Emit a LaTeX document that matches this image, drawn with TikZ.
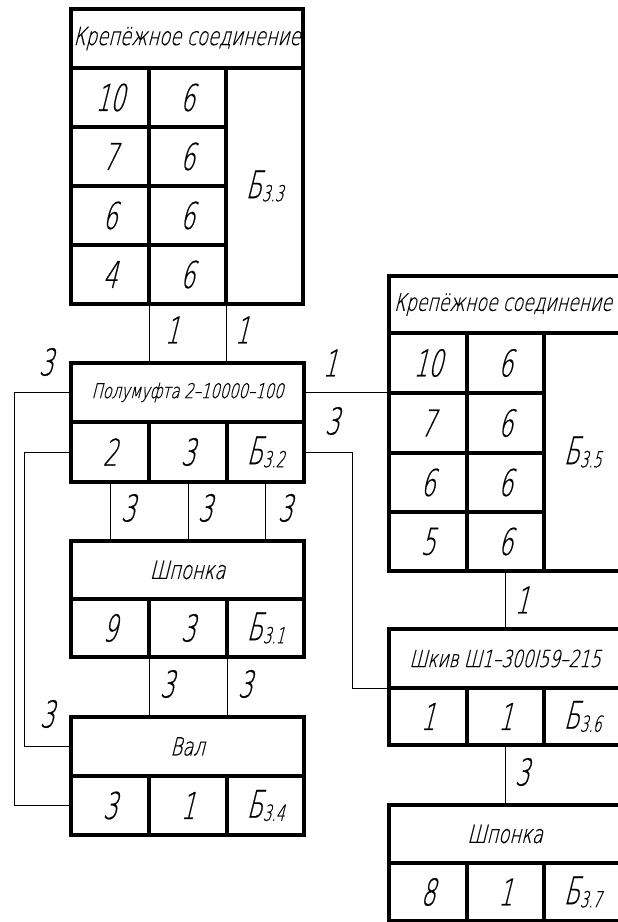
\documentclass[tikz,border=0pt]{standalone}
\usepackage{fontspec}
% narrow slanted drafting lettering
\newfontfamily\gost{DejaVu Sans ExtraLight}[FakeSlant=0.25,FakeStretch=0.72,FakeBold=0.5]
\newfontfamily\gostnum{DejaVu Sans ExtraLight}[FakeSlant=0.25,FakeStretch=0.62,FakeBold=0.5]
\newcommand\ttlsize{\gost\fontsize{25}{25}\selectfont}
\newcommand\numsize{\gostnum\fontsize{37}{37}\selectfont}
% "B" with index, e.g. \bidx{3.3}
\newcommand\bidx[1]{{\gostnum\fontsize{38}{38}\selectfont Б}\raisebox{-3pt}{\gostnum\fontsize{22}{22}\selectfont #1}}
% one table cell: name, left, top, width, height, text
\newcommand\mycell[6]{\node[cell, minimum width=#4pt, minimum height=#5pt] (#1) at (#2,#3) {#6};}
\tikzset{
  cell/.style={draw, line width=3.2pt, rectangle, inner sep=0pt, outer sep=0pt,
               anchor=north west, font=\numsize},
  conn/.style={line width=0.9pt},
  lbl/.style={inner sep=0pt, font=\numsize},
}
\begin{document}
\begin{tikzpicture}[x=1pt,y=-1pt]
\useasboundingbox (0,0) rectangle (618,922);
\clip (0,0) rectangle (618,922);

% fastener unit B3.3
\mycell{aT}{71}{9}{232}{59}{\ttlsize Крепёжное соединение}
\mycell{a11}{71}{68}{78}{59}{10}
\mycell{a12}{149}{68}{77}{59}{6}
\mycell{a21}{71}{127}{78}{59}{7}
\mycell{a22}{149}{127}{77}{59}{6}
\mycell{a31}{71}{186}{78}{59}{6}
\mycell{a32}{149}{186}{77}{59}{6}
\mycell{a41}{71}{245}{78}{59}{4}
\mycell{a42}{149}{245}{77}{59}{6}
\mycell{aB}{226}{68}{77}{236}{\bidx{3.3}}

% half coupling B3.2
\mycell{pT}{71}{363}{233}{59}{\gost\fontsize{20.5}{20.5}\selectfont Полумуфта 2–10000–100}
\mycell{p1}{71}{422}{78}{60}{2}
\mycell{p2}{149}{422}{78}{60}{3}
\mycell{p3}{227}{422}{77}{60}{\bidx{3.2}}

% key B3.1
\mycell{sT}{71}{541}{233}{58}{\ttlsize Шпонка}
\mycell{s1}{71}{599}{78}{58}{9}
\mycell{s2}{149}{599}{78}{58}{3}
\mycell{s3}{227}{599}{77}{58}{\bidx{3.1}}

% shaft B3.4
\mycell{vT}{71}{717}{233}{59}{\ttlsize Вал}
\mycell{v1}{71}{776}{78}{59}{3}
\mycell{v2}{149}{776}{78}{59}{1}
\mycell{v3}{227}{776}{77}{59}{\bidx{3.4}}

% fastener unit B3.5
\mycell{bT}{389}{276}{232}{57}{\gost\fontsize{24}{24}\selectfont Крепёжное соединение\hspace*{4pt}}
\mycell{b11}{389}{333}{78}{60}{10}
\mycell{b12}{467}{333}{77}{60}{6}
\mycell{b21}{389}{393}{78}{60}{7}
\mycell{b22}{467}{393}{77}{60}{6}
\mycell{b31}{389}{453}{78}{59}{6}
\mycell{b32}{467}{453}{77}{59}{6}
\mycell{b41}{389}{512}{78}{59}{5}
\mycell{b42}{467}{512}{77}{59}{6}
\mycell{bB}{544}{333}{77}{238}{\bidx{3.5}}

% pulley B3.6
\mycell{kT}{389}{629}{232}{59}{\gost\fontsize{23.5}{23.5}\selectfont Шкив Ш1–300I59–215}
\mycell{k1}{389}{688}{78}{57}{1}
\mycell{k2}{467}{688}{77}{57}{1}
\mycell{k3}{544}{688}{77}{57}{\bidx{3.6}}

% key B3.7
\mycell{tT}{389}{805}{232}{58}{\ttlsize Шпонка}
\mycell{t1}{389}{863}{78}{58}{8}
\mycell{t2}{467}{863}{77}{58}{1}
\mycell{t3}{544}{863}{77}{58}{\bidx{3.7}}

% links
\draw[conn] (a41.south east) -- (a41.south east |- pT.north);
\draw[conn] (a42.south east) -- (a42.south east |- pT.north);
\draw[conn] (pT.west) -- ++(-57,0) |- (v1.west);
\draw[conn] (p1.west) -- ++(-47,0) |- (vT.west);
\draw[conn] (p1.south) -- (p1.south |- sT.north);
\draw[conn] (p2.south) -- (p2.south |- sT.north);
\draw[conn] (p3.south) -- (p3.south |- sT.north);
\draw[conn] (s1.south east) -- (s1.south east |- vT.north);
\draw[conn] (s2.south east) -- (s2.south east |- vT.north);
\draw[conn] (pT.east) -- (pT.east -| b21.west);
\draw[conn] (p3.east) -- ++(48,0) |- (kT.south west);
\draw[conn] (b42.south) -- (b42.south |- kT.north);
\draw[conn] (k2.south) -- (k2.south |- tT.north);

% link weights
\node[lbl] (w1) at (172,330) {1};
\node[lbl] (w2) at (242,330) {1};
\node[lbl] (w3) at (46,362) {3};
\node[lbl] (w4) at (330,363) {1};
\node[lbl] (w5) at (332,421) {3};
\node[lbl] (w6) at (128,508) {3};
\node[lbl] (w7) at (205,508) {3};
\node[lbl] (w8) at (285,508) {3};
\node[lbl] (w9) at (167,684) {3};
\node[lbl] (w10) at (245,684) {3};
\node[lbl] (w11) at (47,714) {3};
\node[lbl] (w12) at (522,600) {1};
\node[lbl] (w13) at (522,772) {3};
\end{tikzpicture}
\end{document}
